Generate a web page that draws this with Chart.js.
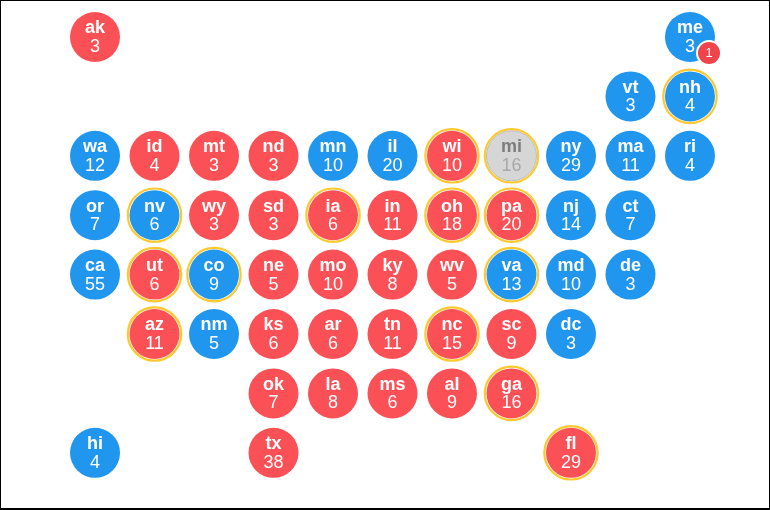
<!DOCTYPE html>
<html>
<head>
<meta charset="utf-8">
<style>
html,body{margin:0;padding:0;background:#fff;overflow:hidden}
#wrap{position:relative;width:770px;height:510px}
#frame{position:absolute;left:0;top:0;width:768px;height:507px;border:1px solid #000;border-bottom-width:2px;pointer-events:none}
</style>
<script src="https://cdn.jsdelivr.net/npm/chart.js@4"></script>
</head>
<body>
<div id="wrap"><canvas id="c" width="770" height="510"></canvas><div id="frame"></div></div>
<script>
const states  = ["ak","me","vt","nh","wa","id","mt","nd","mn","il","wi","mi","ny","ma","ri","or","nv","wy","sd","ia","in","oh","pa","nj","ct","ca","ut","co","ne","mo","ky","wv","va","md","de","az","nm","ks","ar","tn","nc","sc","dc","ok","la","ms","al","ga","hi","tx","fl"];
const votes   = [3,3,3,4,12,4,3,3,10,20,10,16,29,11,4,7,6,3,3,6,11,18,20,14,7,55,6,9,5,10,8,5,13,10,3,11,5,6,6,11,15,9,3,7,8,6,9,16,4,38,29];
const columns = [0,10,9,10,0,1,2,3,4,5,6,7,8,9,10,0,1,2,3,4,5,6,7,8,9,0,1,2,3,4,5,6,7,8,9,1,2,3,4,5,6,7,8,3,4,5,6,7,0,3,8];
const rows    = [0,0,1,1,2,2,2,2,2,2,2,2,2,2,2,3,3,3,3,3,3,3,3,3,3,4,4,4,4,4,4,4,4,4,4,5,5,5,5,5,5,5,5,6,6,6,6,6,7,7,7];
const winners = ["r","b","b","b","b","r","r","r","b","b","r","g","b","b","b","b","b","r","r","r","r","r","r","b","b","b","r","b","r","r","r","r","b","b","b","r","b","r","r","r","r","r","b","r","r","r","r","r","b","r","r"];
const battlegrounds = ["nh","wi","mi","nv","ia","oh","pa","ut","co","va","az","nc","ga","fl"];
const badgeLabels = ["1"];
const badgeColumns = [10.32];
const badgeRows = [0.27];

const RED="#fb5055", BLUE="#2196ee", GREY="#d6d6d6", GOLD="#fdc92f";
const fill={r:RED,b:BLUE,g:GREY};
const pts=states.map((s,i)=>({x:columns[i],y:rows[i],s,v:votes[i],w:winners[i]}));

const labelPlugin={
  id:"stateLabels",
  afterDatasetsDraw(chart){
    const {ctx,scales:{x,y}}=chart;
    ctx.save();ctx.textAlign="center";ctx.textBaseline="middle";
    pts.forEach(p=>{
      const px=x.getPixelForValue(p.x),py=y.getPixelForValue(p.y);
      ctx.fillStyle=p.w==="g"?"#7d7d7d":"#fff";
      ctx.font='bold 18px "Liberation Sans"';
      ctx.fillText(p.s,px,py-8.5);
      ctx.fillStyle=p.w==="g"?"#a8a8a8":"#fff";
      ctx.font='18px "Liberation Sans"';
      ctx.fillText(String(p.v),px,py+10);
    });
    ctx.fillStyle="#fff";ctx.font='13px "Liberation Sans"';
    badgeLabels.forEach((t,i)=>ctx.fillText(t,x.getPixelForValue(badgeColumns[i]),y.getPixelForValue(badgeRows[i])+0.5));
    ctx.restore();
  }
};

new Chart(document.getElementById("c"),{
  type:"scatter",
  data:{datasets:[
    {data:pts.filter(p=>battlegrounds.includes(p.s)),pointRadius:26.7,pointHoverRadius:26.7,backgroundColor:"#fff",borderColor:GOLD,borderWidth:2.2,order:4},
    {data:pts,pointRadius:25,pointHoverRadius:25,
      backgroundColor:c=>fill[c.raw.w],
      borderColor:c=>c.raw.w==="g"?"#bdbdbd":fill[c.raw.w],
      borderWidth:c=>c.raw.w==="g"?1:0,order:3},
    {data:badgeColumns.map((x,i)=>({x,y:badgeRows[i]})),pointRadius:12,pointHoverRadius:12,backgroundColor:"#f0444c",borderColor:"#fff",borderWidth:2,order:2}
  ]},
  options:{
    responsive:false,animation:false,devicePixelRatio:1,
    layout:{padding:0,autoPadding:false},
    plugins:{legend:{display:false},tooltip:{enabled:false}},
    events:[],
    scales:{
      x:{type:"linear",display:false,min:-1.597,max:11.345},
      y:{type:"linear",display:false,reverse:true,min:-0.623,max:7.963}
    }
  },
  plugins:[labelPlugin]
});
</script>
</body>
</html>
